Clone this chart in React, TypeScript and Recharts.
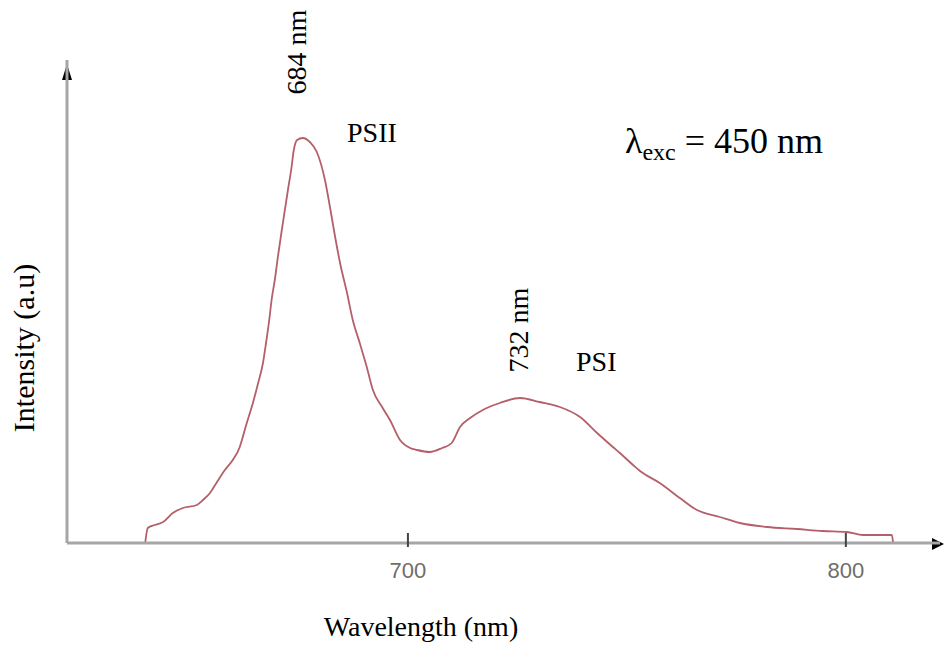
import { Line, LineChart, XAxis, YAxis } from "recharts";

// wavelength (nm)
const wavelengths = [
  640.0, 640.6, 642.2, 644.1, 646.3, 648.6, 651.8, 653.2, 654.8, 656.4, 658.2,
  660.0, 661.6, 662.1, 663.2, 664.6, 665.8, 666.9, 667.6, 668.3, 668.9, 669.6,
  670.3, 671.2, 671.9, 672.6, 673.4, 673.9, 674.7, 676.0, 677.6, 679.2, 681.1,
  682.2, 683.3, 684.5, 686.1, 687.4, 689.0, 690.6, 692.0, 694.1, 695.9, 698.2,
  700.5, 702.1, 705.0, 707.8, 710.0, 711.9, 714.2, 717.1, 721.0, 725.6, 730.1,
  734.7, 739.3, 743.2, 746.8, 748.4, 751.4, 753.0, 757.5, 762.1, 766.0, 771.2,
  775.8, 782.0, 788.8, 794.7, 800.2, 803.9, 810.5, 810.8,
];

// intensity (a.u.)
const intensity = [
  0, 15, 18, 21, 30, 35, 38, 43, 50, 61, 73, 83, 96, 103, 120, 140, 160, 180,
  200, 222, 244, 263, 286, 313, 333, 353, 375, 392, 403, 405, 401, 391, 362,
  336, 308, 280, 250, 223, 200, 176, 153, 136, 123, 103, 95, 93, 91, 95, 100,
  116, 125, 133, 140, 145, 141, 136, 126, 110, 96, 90, 78, 72, 60, 45, 33, 26,
  20, 16, 14, 12, 11, 8, 8, 0,
];

const xTicks = [700, 800];
const xDomain = [622.15, 821.5];
const yDomain = [0, 483];

const data = wavelengths.map((w, i) => ({ w, v: intensity[i] }));

const serif = "'Liberation Serif', 'Times New Roman', serif";
const axisGray = "#a6a6a6";

function Tick(props: any) {
  const { x, y, payload } = props;
  return (
    <g>
      <line x1={x} y1={y - 12} x2={x} y2={y + 2} stroke="#444" strokeWidth={2} />
      <text
        x={x}
        y={y + 33}
        textAnchor="middle"
        fill="#6e6e6e"
        fontSize={22}
        fontFamily="'Liberation Sans', Arial, sans-serif"
      >
        {payload.value}
      </text>
    </g>
  );
}

export default function App() {
  return (
    <div style={{ position: "absolute", left: 0, top: 0, background: "#fff" }}>
      <LineChart
        width={944}
        height={648}
        data={data}
        margin={{ top: 60, right: 4, left: 66, bottom: 65 }}
      >
        <XAxis
          dataKey="w"
          type="number"
          domain={xDomain}
          ticks={xTicks}
          allowDataOverflow
          height={40}
          tickSize={0}
          tickLine={false}
          tick={<Tick />}
          axisLine={{ stroke: axisGray, strokeWidth: 3 }}
        />
        <YAxis
          type="number"
          domain={yDomain}
          width={1}
          tick={false}
          tickLine={false}
          axisLine={{ stroke: axisGray, strokeWidth: 3 }}
        />
        <Line
          type="monotone"
          dataKey="v"
          stroke="#b45f69"
          strokeWidth={1.8}
          dot={false}
          isAnimationActive={false}
        />
        {/* axis arrows */}
        <polygon points="62,80 67,64 72,80" fill="#000" />
        <polygon points="932,538 944,544 932,550" fill="#000" />
        {/* annotations */}
        <text
          transform="translate(306,52) rotate(-90)"
          textAnchor="middle"
          fontSize={28}
          fontFamily={serif}
          fill="#000"
        >
          684 nm
        </text>
        <text x={347} y={142} fontSize={28} fontFamily={serif} fill="#000">
          PSII
        </text>
        <text
          transform="translate(528,330) rotate(-90)"
          textAnchor="middle"
          fontSize={28}
          fontFamily={serif}
          fill="#000"
        >
          732 nm
        </text>
        <text x={576} y={371} fontSize={28} fontFamily={serif} fill="#000">
          PSI
        </text>
        <text x={625} y={153} fontSize={36} fontFamily={serif} fill="#000">
          λ
          <tspan fontSize={24} dy={7}>
            exc
          </tspan>
          <tspan dy={-7}> = 450 nm</tspan>
        </text>
        <text
          transform="translate(34,348) rotate(-90)"
          textAnchor="middle"
          fontSize={30}
          fontFamily={serif}
          fill="#000"
        >
          Intensity (a.u)
        </text>
        <text
          x={421}
          y={636}
          textAnchor="middle"
          fontSize={28}
          fontFamily={serif}
          fill="#000"
        >
          Wavelength (nm)
        </text>
      </LineChart>
    </div>
  );
}
